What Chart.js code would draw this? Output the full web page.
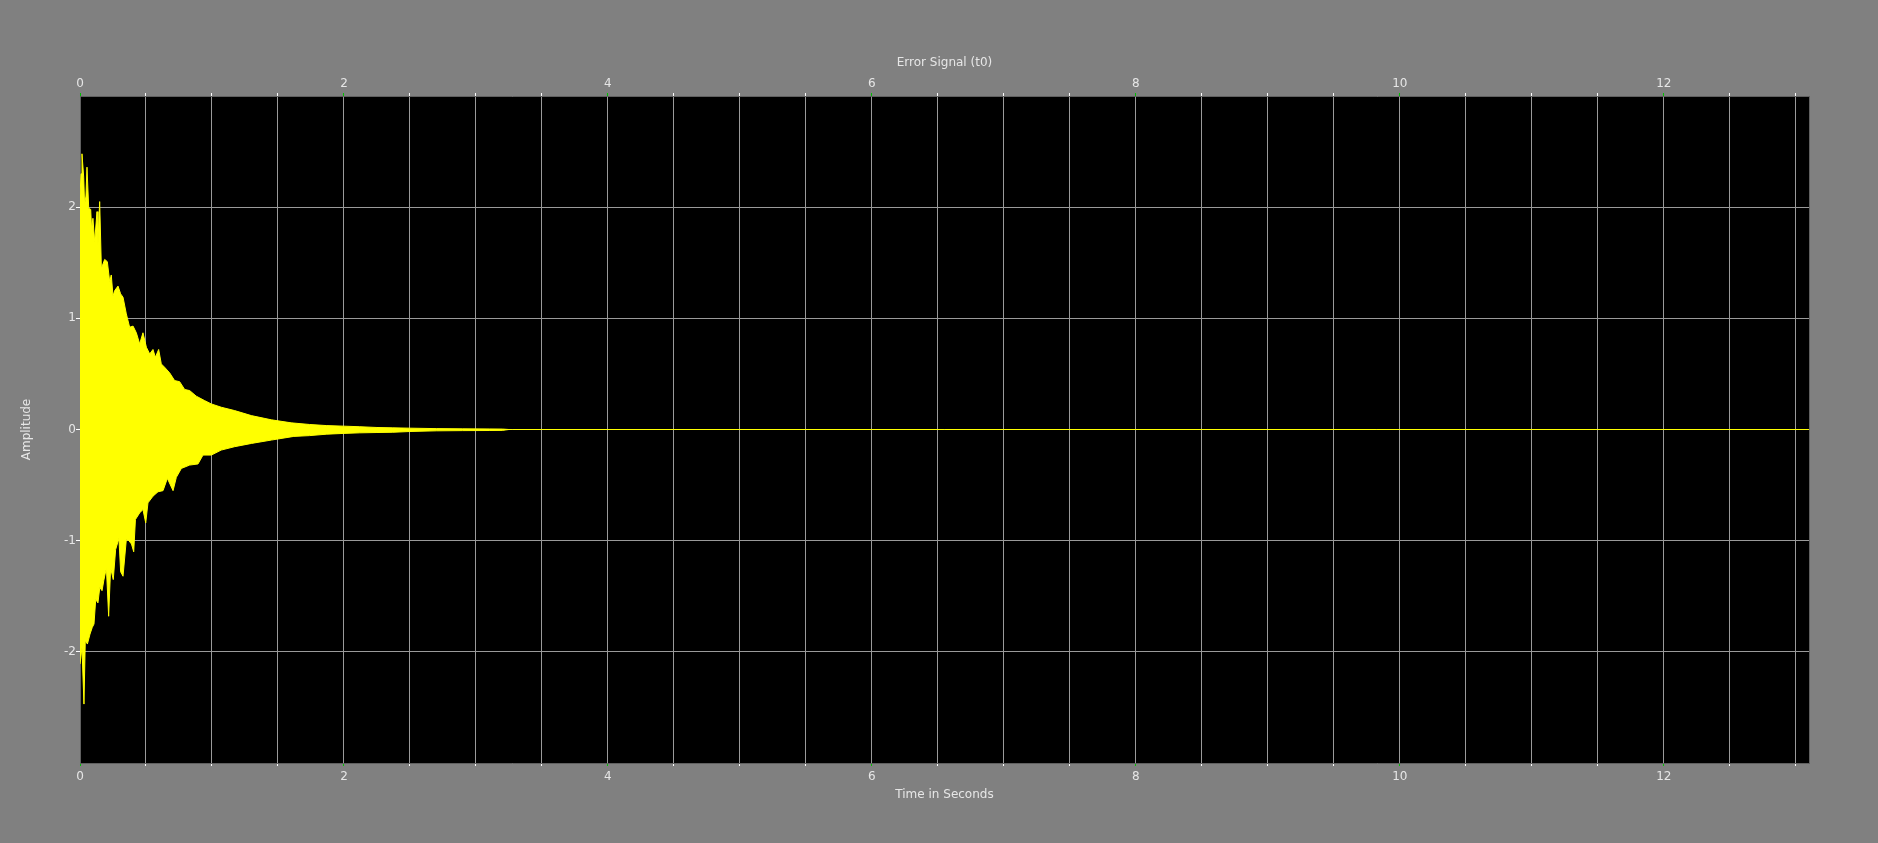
<!DOCTYPE html>
<html lang="en">
<head>
    <meta charset="UTF-8">
    <title>Error Signal (t0)</title>
    <script src="https://cdn.jsdelivr.net/npm/chart.js"></script>
    <style>
        html, body { margin: 0; padding: 0; background: #808080; }
        canvas { display: block; }
    </style>
</head>
<body>
    <canvas id="errorChart" width="1878" height="843"></canvas>
    <script>
        // positive peaks of the decaying error signal (seconds / amplitude)
        const upperTimes = [0, 0.008, 0.015, 0.028, 0.035, 0.045, 0.053, 0.066, 0.081, 0.088,
            0.098, 0.111, 0.129, 0.136, 0.149, 0.162, 0.187, 0.207, 0.225, 0.237,
            0.25, 0.263, 0.288, 0.308, 0.326, 0.351, 0.376, 0.402, 0.427, 0.452,
            0.477, 0.503, 0.528, 0.553, 0.571, 0.596, 0.616, 0.641, 0.679, 0.717,
            0.755, 0.793, 0.831, 0.881, 0.944, 0.995, 1.071, 1.172, 1.298, 1.45,
            1.60, 1.74, 1.87, 2.00, 2.12, 2.25, 2.37, 2.50, 2.70, 2.90,
            3.10, 3.20, 3.25];
        const upperPeaks = [2.10, 2.30, 2.48, 2.27, 2.02, 2.10, 2.36, 1.99, 1.98, 1.80,
            1.90, 1.69, 1.96, 1.66, 2.05, 1.45, 1.53, 1.51, 1.33, 1.39,
            1.20, 1.25, 1.29, 1.22, 1.19, 1.04, 0.92, 0.93, 0.87, 0.77,
            0.87, 0.74, 0.68, 0.72, 0.65, 0.72, 0.59, 0.56, 0.51, 0.44,
            0.43, 0.36, 0.35, 0.30, 0.26, 0.23, 0.20, 0.17, 0.125, 0.087,
            0.060, 0.045, 0.035, 0.030, 0.025, 0.018, 0.015, 0.012, 0.008, 0.006,
            0.005, 0.004, 0];
        // negative peaks
        const lowerTimes = [0, 0.015, 0.030, 0.040, 0.056, 0.076, 0.093, 0.106, 0.119, 0.136,
            0.150, 0.167, 0.180, 0.200, 0.217, 0.232, 0.252, 0.270, 0.295, 0.308,
            0.326, 0.351, 0.370, 0.390, 0.407, 0.420, 0.452, 0.477, 0.498, 0.515,
            0.553, 0.591, 0.629, 0.662, 0.705, 0.730, 0.768, 0.831, 0.894, 0.932,
            0.995, 1.07, 1.17, 1.30, 1.45, 1.62, 1.74, 1.87, 2.00, 2.12,
            2.25, 2.37, 2.50, 2.70, 2.90, 3.10, 3.20, 3.25];
        const lowerPeaks = [-2.11, -1.96, -2.47, -1.90, -1.93, -1.84, -1.78, -1.75, -1.53, -1.56,
            -1.42, -1.45, -1.36, -1.245, -1.68, -1.245, -1.35, -1.08, -0.98, -1.28,
            -1.32, -0.99, -1.00, -1.03, -1.10, -0.81, -0.75, -0.72, -0.84, -0.66,
            -0.60, -0.56, -0.55, -0.44, -0.55, -0.43, -0.35, -0.32, -0.31, -0.23,
            -0.23, -0.185, -0.155, -0.125, -0.095, -0.062, -0.055, -0.042, -0.035, -0.030,
            -0.027, -0.025, -0.018, -0.012, -0.010, -0.009, -0.008, 0];
        // flat part of the signal after it has settled
        const restTimes = [0, 13.1];
        const restValues = [0, 0];

        const xMin = 0, xMax = 13.1;
        const yMin = -3, yMax = 3;

        const textFont = { family: 'DejaVu Sans', size: 12 };
        const textColor = '#e6e6e6';
        const gridColor = '#9a9a9a';
        const frameColor = '#606060';
        const signalColor = '#ffff00';

        function toPoints(xs, ys) {
            return xs.map((x, i) => ({ x: x, y: ys[i] }));
        }

        function majorLabel(value) {
            return value % 2 === 0 ? String(value) : '';
        }

        function xTickColor(ctx) {
            return ctx.tick && ctx.tick.value % 2 === 0 ? '#00c000' : '#ffffff';
        }

        const plotBackground = {
            id: 'plotBackground',
            beforeDraw(chart) {
                const { ctx, chartArea: a } = chart;
                ctx.save();
                ctx.fillStyle = '#000000';
                ctx.fillRect(a.left, a.top, a.right - a.left, a.bottom - a.top);
                ctx.restore();
            },
            beforeDatasetsDraw(chart) {
                const { ctx, chartArea: a } = chart;
                ctx.save();
                ctx.strokeStyle = frameColor;
                ctx.lineWidth = 1;
                ctx.beginPath();
                ctx.moveTo(a.right + 0.5, a.top);
                ctx.lineTo(a.right + 0.5, a.bottom);
                ctx.stroke();
                ctx.restore();
            }
        };

        const ctx = document.getElementById('errorChart').getContext('2d');
        new Chart(ctx, {
            type: 'line',
            data: {
                datasets: [{
                    label: 'upper',
                    data: toPoints(upperTimes, upperPeaks),
                    borderColor: signalColor,
                    backgroundColor: signalColor,
                    borderWidth: 1,
                    fill: 'origin'
                }, {
                    label: 'lower',
                    data: toPoints(lowerTimes, lowerPeaks),
                    borderColor: signalColor,
                    backgroundColor: signalColor,
                    borderWidth: 1,
                    fill: 'origin'
                }, {
                    label: 'rest',
                    data: toPoints(restTimes, restValues),
                    borderColor: signalColor,
                    borderWidth: 1,
                    fill: false
                }]
            },
            options: {
                responsive: false,
                animation: false,
                devicePixelRatio: 1,
                layout: { padding: { right: 69 } },
                elements: { point: { radius: 0 }, line: { tension: 0 } },
                plugins: { legend: { display: false }, tooltip: { enabled: false } },
                scales: {
                    x: {
                        type: 'linear',
                        position: 'bottom',
                        min: xMin,
                        max: xMax,
                        afterFit: s => { s.height = 80; },
                        ticks: {
                            stepSize: 0.5,
                            includeBounds: false,
                            autoSkip: false,
                            maxRotation: 0,
                            padding: 4,
                            color: textColor,
                            font: textFont,
                            callback: majorLabel
                        },
                        grid: { color: gridColor, tickLength: 3, tickColor: xTickColor },
                        border: { color: frameColor },
                        title: {
                            display: true,
                            text: 'Time in Seconds',
                            color: textColor,
                            font: textFont,
                            padding: { top: 0, bottom: 41 }
                        }
                    },
                    x2: {
                        type: 'linear',
                        position: 'top',
                        min: xMin,
                        max: xMax,
                        afterFit: s => { s.height = 96; },
                        ticks: {
                            stepSize: 0.5,
                            includeBounds: false,
                            autoSkip: false,
                            maxRotation: 0,
                            padding: 2,
                            color: textColor,
                            font: textFont,
                            callback: majorLabel
                        },
                        grid: { drawOnChartArea: false, tickLength: 3, tickColor: xTickColor },
                        border: { color: frameColor },
                        title: {
                            display: true,
                            text: 'Error Signal (t0)',
                            color: textColor,
                            font: textFont,
                            padding: { top: 56, bottom: 0 }
                        }
                    },
                    y: {
                        type: 'linear',
                        position: 'left',
                        min: yMin,
                        max: yMax,
                        afterFit: s => { s.width = 80; },
                        ticks: {
                            stepSize: 1,
                            padding: 0,
                            color: textColor,
                            font: textFont,
                            callback: v => (v === yMin || v === yMax) ? '' : String(v)
                        },
                        grid: {
                            color: gridColor,
                            tickLength: 4,
                            tickColor: c => (c.tick && Math.abs(c.tick.value) === 3) ? 'rgba(0,0,0,0)' : '#ffffff'
                        },
                        border: { color: frameColor },
                        title: {
                            display: true,
                            text: 'Amplitude',
                            color: textColor,
                            font: textFont,
                            padding: { top: 20, bottom: 0 }
                        }
                    }
                }
            },
            plugins: [plotBackground]
        });
    </script>
</body>
</html>
